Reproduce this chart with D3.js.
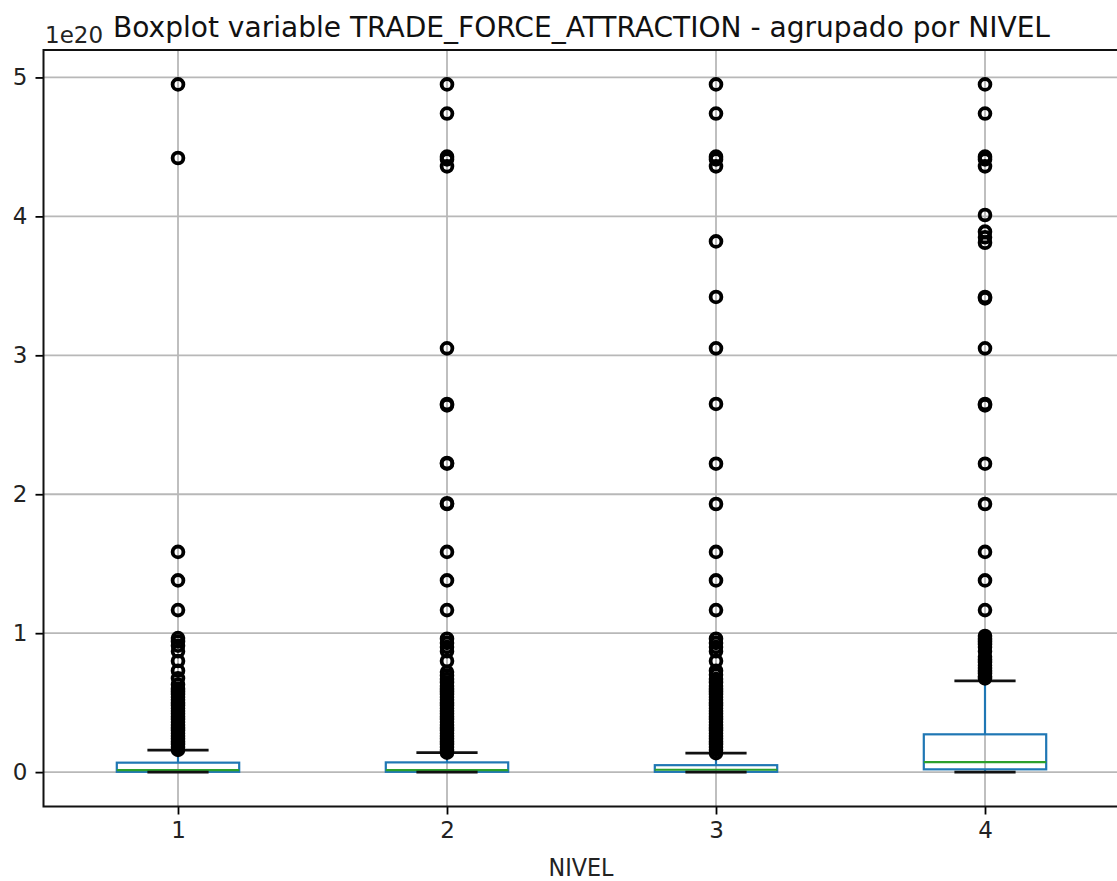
<!DOCTYPE html>
<html>
<head>
<meta charset="utf-8">
<script src="https://cdn.jsdelivr.net/npm/d3@7"></script>
<style>
  html, body { margin: 0; padding: 0; background: #fff; }
  svg { display: block; font-family: "DejaVu Sans", sans-serif; }
</style>
</head>
<body>
<svg id="chart" width="1117" height="881"></svg>
<script>
// Values are in units of 1e20 (shown as the axis offset label).
const levels = ["1", "2", "3", "4"];
const q1 = [0.002, 0.002, 0.002, 0.02];
const medians = [0.015, 0.015, 0.017, 0.072];
const q3 = [0.068, 0.07, 0.05, 0.272];
const whiskerLow = [0, 0, 0, 0];
const whiskerHigh = [0.158, 0.14, 0.137, 0.656];

const fliers1 = [0.16, 0.18, 0.20, 0.22, 0.24, 0.26, 0.28, 0.30, 0.32, 0.34, 0.36, 0.38, 0.40,
  0.42, 0.44, 0.46, 0.48, 0.50, 0.52, 0.54, 0.56, 0.58, 0.60, 0.63, 0.675, 0.73, 0.80, 0.87,
  0.91, 0.94, 0.965, 1.166, 1.38, 1.585, 4.42, 4.95];
const fliers2 = [0.14, 0.16, 0.18, 0.20, 0.22, 0.24, 0.26, 0.28, 0.30, 0.32, 0.34, 0.36, 0.38,
  0.40, 0.42, 0.44, 0.46, 0.48, 0.50, 0.52, 0.54, 0.56, 0.58, 0.60, 0.62, 0.645, 0.67, 0.695,
  0.72, 0.80, 0.87, 0.90, 0.93, 0.96, 1.166, 1.38, 1.585, 1.93, 1.935, 2.22, 2.225, 2.64,
  2.65, 3.05, 4.36, 4.41, 4.43, 4.74, 4.95];
const fliers3 = [0.137, 0.16, 0.18, 0.20, 0.22, 0.24, 0.26, 0.28, 0.30, 0.32, 0.34, 0.36,
  0.38, 0.40, 0.42, 0.44, 0.46, 0.48, 0.50, 0.52, 0.54, 0.56, 0.58, 0.60, 0.62, 0.645, 0.67,
  0.70, 0.73, 0.80, 0.87, 0.90, 0.93, 0.96, 1.166, 1.38, 1.585, 1.93, 2.22, 2.65, 3.05, 3.42,
  3.82, 4.36, 4.41, 4.43, 4.74, 4.95];
const fliers4 = [0.675, 0.69, 0.71, 0.73, 0.75, 0.77, 0.79, 0.81, 0.83, 0.87, 0.90, 0.92,
  0.94, 0.96, 0.98, 1.166, 1.38, 1.585, 1.93, 2.22, 2.64, 2.65, 3.05, 3.41, 3.42, 3.81, 3.85,
  3.89, 4.01, 4.36, 4.41, 4.43, 4.74, 4.95];
const fliers = [fliers1, fliers2, fliers3, fliers4];

const yTicks = [0, 1, 2, 3, 4, 5];
const offsetLabel = "1e20";
const titleText = "Boxplot variable TRADE_FORCE_ATTRACTION - agrupado por NIVEL";
const xLabelText = "NIVEL";

const svg = d3.select("#chart");
const plot = { left: 43.5, right: 1119.5, top: 50, bottom: 806.5 };

// Position scale, one slot per level, padded by half a slot like matplotlib
const x = d3.scaleLinear().domain([0.5, levels.length + 0.5]).range([plot.left, plot.right]);

// y limits: data range with 5% margins
const allVals = [].concat(whiskerLow, whiskerHigh, ...fliers);
const [vMin, vMax] = d3.extent(allVals);
const pad = (vMax - vMin) * 0.05;
const y = d3.scaleLinear().domain([vMin - pad, vMax + pad]).range([plot.bottom, plot.top]);

const gridColor = "#b8b8b8";
const boxColor = "#1f77b4";
const medianColor = "#2ca02c";
const boxW = 0.455;

// Grid
const grid = svg.append("g");
grid.selectAll("line.gx").data(levels).join("line")
  .attr("x1", (d, i) => x(i + 1)).attr("x2", (d, i) => x(i + 1))
  .attr("y1", plot.top).attr("y2", plot.bottom)
  .attr("stroke", gridColor).attr("stroke-width", 1.8);
grid.selectAll("line.gy").data(yTicks).join("line")
  .attr("x1", plot.left).attr("x2", plot.right)
  .attr("y1", d => y(d)).attr("y2", d => y(d))
  .attr("stroke", gridColor).attr("stroke-width", 1.8);

// Boxes
const groups = svg.append("g").selectAll("g").data(levels).join("g");
groups.each(function (d, i) {
  const g = d3.select(this);
  const cx = x(i + 1);
  const half = (x(1 + boxW / 2) - x(1));
  const capHalf = half / 2;
  // whiskers
  g.append("line").attr("x1", cx).attr("x2", cx)
    .attr("y1", y(q3[i])).attr("y2", y(whiskerHigh[i]))
    .attr("stroke", boxColor).attr("stroke-width", 2.2);
  g.append("line").attr("x1", cx).attr("x2", cx)
    .attr("y1", y(q1[i])).attr("y2", y(whiskerLow[i]))
    .attr("stroke", boxColor).attr("stroke-width", 2.2);
  // box
  g.append("rect")
    .attr("x", cx - half).attr("width", 2 * half)
    .attr("y", y(q3[i])).attr("height", y(q1[i]) - y(q3[i]))
    .attr("fill", "none").attr("stroke", boxColor).attr("stroke-width", 2.2);
  // median
  g.append("line").attr("x1", cx - half).attr("x2", cx + half)
    .attr("y1", y(medians[i])).attr("y2", y(medians[i]))
    .attr("stroke", medianColor).attr("stroke-width", 2.2);
  // caps
  [whiskerLow[i], whiskerHigh[i]].forEach(v => {
    g.append("line").attr("x1", cx - capHalf).attr("x2", cx + capHalf)
      .attr("y1", y(v)).attr("y2", y(v))
      .attr("stroke", "#111").attr("stroke-width", 2.8);
  });
  // outliers
  g.selectAll("circle").data(fliers[i]).join("circle")
    .attr("cx", cx).attr("cy", v => y(v)).attr("r", 5.4)
    .attr("fill", "none").attr("stroke", "#000").attr("stroke-width", 3.8);
});

// Axes
const xAxis = d3.axisBottom(x).tickValues(levels.map((d, i) => i + 1))
  .tickFormat((d, i) => levels[i]).tickSize(8).tickPadding(7);
const yAxis = d3.axisLeft(y).tickValues(yTicks).tickFormat(d3.format("d"))
  .tickSize(8).tickPadding(8);

const gx = svg.append("g").attr("transform", `translate(0,${plot.bottom})`).call(xAxis);
const gy = svg.append("g").attr("transform", `translate(${plot.left},0)`).call(yAxis);
[gx, gy].forEach(g => {
  g.select(".domain").remove();
  g.selectAll(".tick line").attr("stroke", "#000").attr("stroke-width", 1.8);
  g.selectAll(".tick text").attr("font-size", 23).attr("fill", "#222")
    .attr("font-family", "DejaVu Sans, sans-serif");
});

// Frame
svg.append("rect")
  .attr("x", plot.left).attr("y", plot.top)
  .attr("width", plot.right - plot.left).attr("height", plot.bottom - plot.top)
  .attr("fill", "none").attr("stroke", "#111").attr("stroke-width", 2);

// Offset label
svg.append("text").attr("x", 45).attr("y", 43)
  .attr("font-size", 23).attr("fill", "#222").text(offsetLabel);

// Title
svg.append("text").attr("x", 581.5).attr("y", 37)
  .attr("text-anchor", "middle").attr("font-size", 29).attr("fill", "#111")
  .attr("textLength", 937).attr("lengthAdjust", "spacingAndGlyphs")
  .text(titleText);

// x axis label
svg.append("text").attr("x", 581).attr("y", 876)
  .attr("text-anchor", "middle").attr("font-size", 24).attr("fill", "#222")
  .attr("textLength", 65).attr("lengthAdjust", "spacingAndGlyphs")
  .text(xLabelText);
</script>
</body>
</html>
